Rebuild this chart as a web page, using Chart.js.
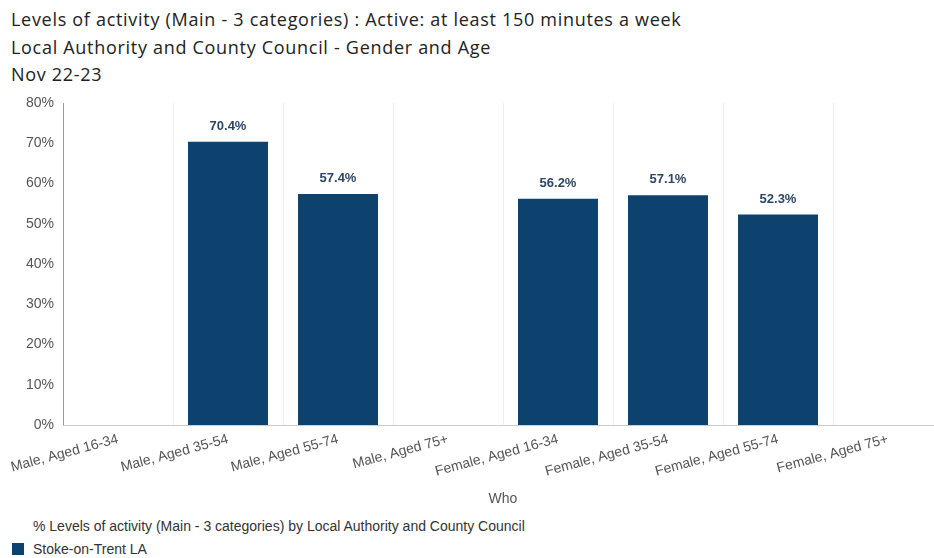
<!DOCTYPE html>
<html>
<head>
<meta charset="utf-8">
<script src="https://cdn.jsdelivr.net/npm/chart.js@4.4.1/dist/chart.umd.min.js"></script>
<style>
  html, body { margin: 0; padding: 0; background: #fff; overflow: hidden; }
  body { width: 934px; height: 558px; position: relative; }
  .heading { position: absolute; left: 11px; font-family: "Open Sans", sans-serif; font-size: 18px; letter-spacing: 0.7px; color: #222; white-space: nowrap; }
  #chartBox { position: absolute; left: 0; top: 0; width: 950px; height: 512px; }
  .legend-title { position: absolute; left: 33px; top: 518px; font-family: "Liberation Sans", Arial, sans-serif; font-size: 14px; color: #333; white-space: nowrap; }
  .legend-item { position: absolute; left: 12px; top: 541px; font-family: "Liberation Sans", Arial, sans-serif; font-size: 14px; color: #333; white-space: nowrap; }
  .legend-item span.swatch { display: inline-block; width: 12px; height: 12px; background: #0d426e; vertical-align: -1px; margin-right: 9px; }
</style>
</head>
<body>
<div class="heading" style="top:7px">Levels of activity (Main - 3 categories) : Active: at least 150 minutes a week</div>
<div class="heading" style="top:35px">Local Authority and County Council - Gender and Age</div>
<div class="heading" style="top:62px">Nov 22-23</div>
<div id="chartBox"><canvas id="activityChart"></canvas></div>
<div class="legend-title">% Levels of activity (Main - 3 categories) by Local Authority and County Council</div>
<div class="legend-item"><span class="swatch"></span>Stoke-on-Trent LA</div>

<script>
// Kategori dan nilai (persen aktif)
const categories = [
    'Male, Aged 16-34', 'Male, Aged 35-54', 'Male, Aged 55-74', 'Male, Aged 75+',
    'Female, Aged 16-34', 'Female, Aged 35-54', 'Female, Aged 55-74', 'Female, Aged 75+'
];
const activeValues = [null, 70.4, 57.4, null, 56.2, 57.1, 52.3, null];
const yTicks = [0, 10, 20, 30, 40, 50, 60, 70, 80];
const seriesName = 'Stoke-on-Trent LA';

// Plugin kecil untuk menulis nilai di atas tiap batang
const barValueLabels = {
    id: 'barValueLabels',
    afterDatasetsDraw(chart) {
        const { ctx } = chart;
        const meta = chart.getDatasetMeta(0);
        ctx.save();
        ctx.font = 'bold 13px "Liberation Sans", Arial, sans-serif';
        ctx.fillStyle = '#2c4766';
        ctx.textAlign = 'center';
        ctx.textBaseline = 'bottom';
        meta.data.forEach((bar, i) => {
            const v = activeValues[i];
            if (v === null) return;
            ctx.fillText(v.toFixed(1) + '%', bar.x, bar.y - 9);
        });
        ctx.restore();
    }
};

const ctx = document.getElementById('activityChart').getContext('2d');
new Chart(ctx, {
    type: 'bar',
    data: {
        labels: categories,
        datasets: [{
            label: seriesName,
            data: activeValues,
            backgroundColor: '#0d426e',
            barPercentage: 0.727,
            categoryPercentage: 1.0
        }]
    },
    options: {
        responsive: true,
        maintainAspectRatio: false,
        animation: false,
        layout: { padding: { top: 103, right: 7, left: 0, bottom: 0 } },
        scales: {
            y: {
                min: 0,
                max: 80,
                afterBuildTicks: (axis) => { axis.ticks = yTicks.map(v => ({ value: v })); },
                afterFit: (axis) => { axis.width = 63; },
                border: { display: true, color: '#999' },
                grid: { display: false, drawTicks: false },
                ticks: {
                    padding: 9,
                    color: '#555',
                    font: { family: '"Liberation Sans", Arial, sans-serif', size: 14 },
                    callback: (value) => value + '%'
                }
            },
            x: {
                offset: true,
                afterFit: (axis) => { axis.height = 87; },
                border: { display: true, color: '#ccc' },
                grid: { offset: true, color: '#f0f0f0', drawTicks: false },
                ticks: {
                    autoSkip: false,
                    minRotation: 15,
                    maxRotation: 15,
                    padding: 6,
                    color: '#555',
                    font: { family: '"Liberation Sans", Arial, sans-serif', size: 14 }
                },
                title: {
                    display: true,
                    text: 'Who',
                    color: '#555',
                    font: { family: '"Liberation Sans", Arial, sans-serif', size: 14 },
                    padding: { top: 0, bottom: 4 }
                }
            }
        },
        plugins: {
            legend: { display: false },
            tooltip: { enabled: false }
        }
    },
    plugins: [barValueLabels]
});
</script>
</body>
</html>
